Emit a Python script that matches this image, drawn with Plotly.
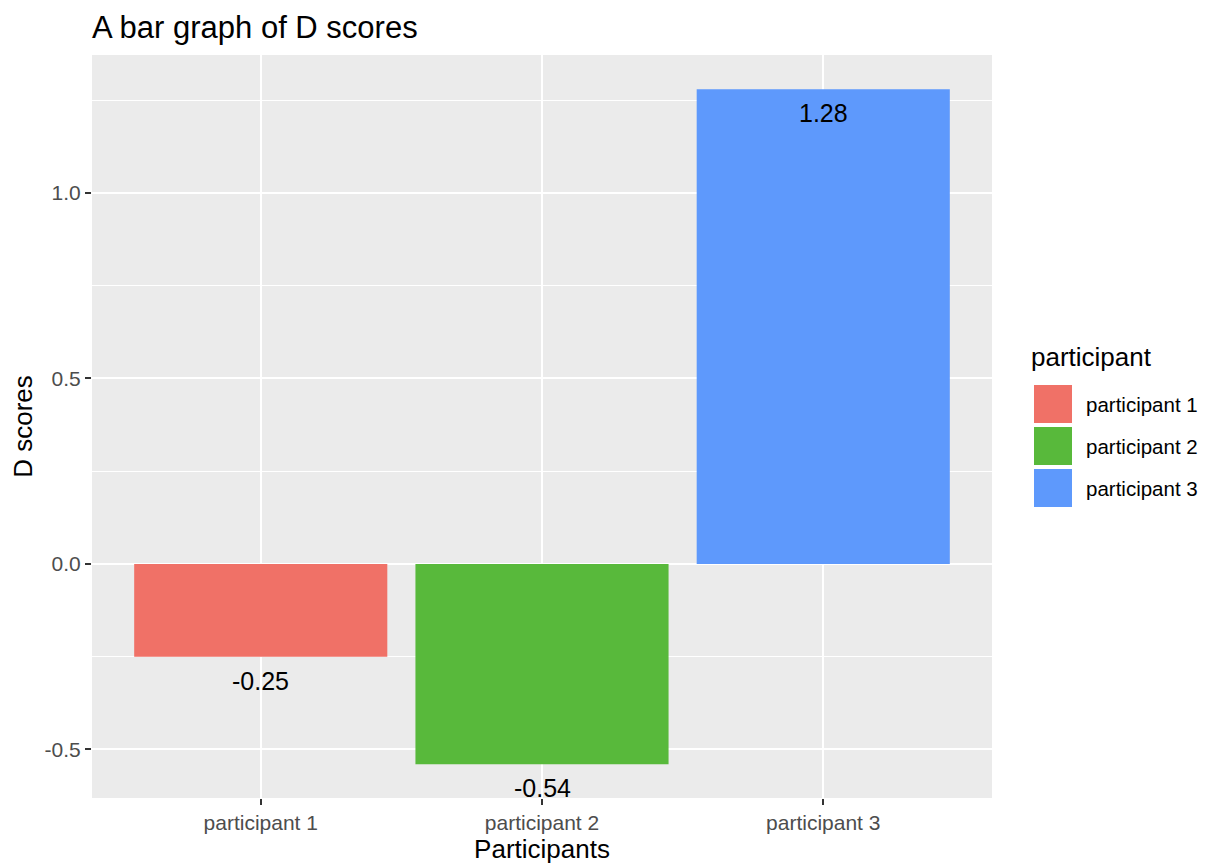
import plotly.graph_objects as go

categories = ["participant 1", "participant 2", "participant 3"]
d_scores = [-0.25, -0.54, 1.28]
labels = ["-0.25", "-0.54", "1.28"]
colors = ["#F07167", "#58B93B", "#5E99FC"]

FONT = "Liberation Sans, Arial"
# page offset (body margin) of 8px
W, H = 1200, 857
L, R, T, B = 84, 216, 47, 67
PW, PH = W - L - R, H - T - B  # 900 x 743

def px(xpage):
    return (xpage - 8 - L) / PW

def py(ypage):
    return (H - B - (ypage - 8)) / PH

fig = go.Figure()
fig.add_trace(go.Bar(x=categories, y=d_scores, marker=dict(color=colors, line=dict(width=0)),
                     width=0.9, showlegend=False, hoverinfo="x+y"))

for c, v, t in zip(categories, d_scores, labels):
    fig.add_annotation(x=c, y=v, text=t, showarrow=False, yshift=-24, yanchor="middle",
                       font=dict(family=FONT, size=25, color="black"))

# legend drawn to match ggplot-style keys
fig.add_annotation(xref="paper", yref="paper", x=px(1029), y=py(357),
                   text="participant", showarrow=False, xanchor="left", yanchor="middle",
                   font=dict(family=FONT, size=26, color="black"))
for i, (c, col) in enumerate(zip(categories, colors)):
    top = 385 + 42 * i
    bot = top + 38
    fig.add_shape(type="rect", xref="paper", yref="paper",
                  x0=px(1034), x1=px(1072), y0=py(bot), y1=py(top),
                  fillcolor=col, line=dict(width=0))
    fig.add_annotation(xref="paper", yref="paper", x=px(1084), y=py(top + 19),
                       text=c, showarrow=False, xanchor="left", yanchor="middle",
                       font=dict(family=FONT, size=20.5, color="black"))

fig.update_layout(
    width=W, height=H,
    margin=dict(l=L, r=R, t=T, b=B),
    paper_bgcolor="white", plot_bgcolor="#EBEBEB",
    title=dict(text="A bar graph of D scores", x=L / W, xanchor="left", y=1 - 19 / H, yanchor="middle",
               font=dict(family=FONT, size=31, color="black")),
    font=dict(family=FONT),
    bargap=0.1,
)
fig.update_xaxes(range=[-0.6, 2.6], showgrid=True, gridcolor="white", gridwidth=2,
                 ticks="outside", ticklen=6, tickcolor="#333333", tickwidth=1.5,
                 tickfont=dict(size=21, color="#4D4D4D"), automargin=False,
                 title=dict(text="Participants", font=dict(size=26, color="black"), standoff=5),
                 zeroline=False, showline=False)
fig.update_yaxes(range=[-0.631, 1.372], tickvals=[-0.5, 0, 0.5, 1.0],
                 ticktext=["-0.5", "0.0", "0.5", "1.0"],
                 showgrid=True, gridcolor="white", gridwidth=2,
                 minor=dict(tickvals=[-0.25, 0.25, 0.75, 1.25], showgrid=True, gridcolor="white", gridwidth=1),
                 ticks="outside", ticklen=6, tickcolor="#333333", tickwidth=1.5,
                 tickfont=dict(size=21, color="#4D4D4D"), automargin=False,
                 title=dict(text="D scores", font=dict(size=26, color="black"), standoff=8),
                 zeroline=False, showline=False)

fig.write_html("out.html")
